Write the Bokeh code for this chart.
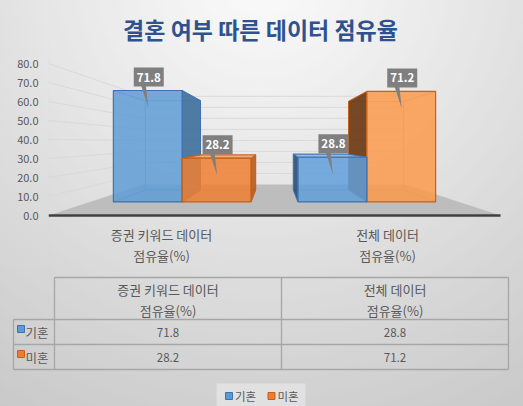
from bokeh.plotting import figure
from bokeh.layouts import column
from bokeh.models import Range1d, FixedTicker, NumeralTickFormatter
from bokeh.core.properties import value
from bokeh.embed import file_html
from bokeh.resources import INLINE

title = "결혼 여부 따른 데이터 점유율"
cat_lines = [["증권 키워드 데이터", "점유율(%)"], ["전체 데이터", "점유율(%)"]]
series_names = ["기혼", "미혼"]
married = [71.8, 28.8]
unmarried = [28.2, 71.2]
y_ticks = [0, 10, 20, 30, 40, 50, 60, 70, 80]

FONT = value("Noto Sans CJK KR")
TXT = "#595959"

# fake 3D: front plane = data space, deeper planes shrink toward a vanishing point
PX_X, PX_Y = 226.0, 1.9          # px per data unit on the front plane
VX, VY = 1.0, 38.9               # vanishing point
S_FRONT, S_BACK, S_WALL = 0.817, 0.655, 0.58
BAR_W = 0.3727

styles = [
    dict(main="#5b9bd5", front="#5e9cd6", front2="#619fd9", edge="#3d72b0",
         right="#41719c", left="#2e5478", top="#86b5e2"),
    dict(main="#ed7d31", front="#ee7f33", front2="#fb9a4e", edge="#c4601c",
         right="#b95d1f", left="#6b3a14", top="#f5a56c"),
]


def proj(x, v, s):
    return VX + s * (x - VX), VY + s * (v - VY)


def poly(pts):
    return [a for a, b in pts], [b for a, b in pts]


def gradient(fig, **kw):
    radii = list(range(540, 0, -5))
    cols = []
    for r in radii:
        g = int(round(max(198, 252 - 50 * r / 500)))
        cols.append("#%02x%02x%02x" % (g, g, g))
    fig.circle(x=[262] * len(radii), y=[-30] * len(radii), radius=radii,
               fill_color=cols, line_color=None, **kw)


# ---------------- chart part ----------------
p = figure(width=523, height=270, x_range=Range1d(0, 475 / PX_X),
           y_range=Range1d(-55 / PX_Y, 215 / PX_Y), x_axis_location=None,
           output_backend="svg", toolbar_location=None,
           min_border_left=48, min_border_right=0, min_border_top=0, min_border_bottom=0)
p.frame_align = False
p.extra_x_ranges = {"page": Range1d(48, 523)}
p.extra_y_ranges = {"page": Range1d(270, 0)}
p.grid.visible = False
p.outline_line_color = None
p.background_fill_color = "#e6e6e6"
p.border_fill_alpha = 0
# same radial shading behind the axis strip
p.styles = {"background": "radial-gradient(circle 540px at 262px -30px, rgb(252,252,252), rgb(198,198,198))"}

ax = p.yaxis[0]
ax.ticker = FixedTicker(ticks=y_ticks)
ax.formatter = NumeralTickFormatter(format="0.0")
ax.axis_line_color = None
ax.major_tick_line_color = None
ax.minor_tick_line_color = None
ax.major_tick_out = 0
ax.major_label_standoff = 10
ax.major_label_text_font = "Noto Sans CJK KR"
ax.major_label_text_font_size = "11px"
ax.major_label_text_color = TXT

gradient(p, x_range_name="page", y_range_name="page")

# floor
fx, fy = poly([proj(0, 0, 1), proj(2, 0, 1), proj(2, 0, S_WALL), proj(0, 0, S_WALL)])
p.patch(fx, fy, fill_color="#bdbdbd", line_color=None)
p.line([0, 2], [0, 0], line_color="#404040", line_width=2.5)

# gridlines on side wall and back wall
gx, gy = [], []
for t in y_ticks[1:]:
    bx0, by = proj(0, t, S_WALL)
    bx1, _ = proj(2, t, S_WALL)
    gx.append([0, bx0, bx1])
    gy.append([t, by, by])
p.multi_line(gx, gy, line_color="#d9d9d9", line_width=1)

# bars
bars = []
for c in range(len(cat_lines)):
    for k, vals in enumerate([married, unmarried]):
        x0 = c + 0.5 - BAR_W + k * BAR_W
        bars.append((x0, x0 + BAR_W, vals[c], k))
bars.sort(key=lambda b: -abs((b[0] + b[1]) / 2 - VX))

lab_x, lab_y, lab_t, tail_x, tail_y = [], [], [], [], []
for x0, x1, v, k in bars:
    st = styles[k]
    right_of_vp = (x0 + x1) / 2 > VX
    FL, FR, FTR, FTL = proj(x0, 0, S_FRONT), proj(x1, 0, S_FRONT), proj(x1, v, S_FRONT), proj(x0, v, S_FRONT)
    BL, BR, BTR, BTL = proj(x0, 0, S_BACK), proj(x1, 0, S_BACK), proj(x1, v, S_BACK), proj(x0, v, S_BACK)
    hx, hy = poly([BL, BR, BTR, BTL, BL])
    p.line(hx, hy, line_color=st["edge"], line_alpha=0.5, line_width=1)
    cx_, cy_ = [], []
    for a, b in [(FL, BL), (FTL, BTL), (FR, BR), (FTR, BTR)]:
        cx_.append([a[0], b[0]])
        cy_.append([a[1], b[1]])
    p.multi_line(cx_, cy_, line_color=st["edge"], line_alpha=0.5, line_width=1)
    if not right_of_vp:
        sx, sy = poly([FR, BR, BTR, FTR])
        p.patch(sx, sy, fill_color=st["right"], fill_alpha=0.92, line_color=st["edge"], line_width=1)
    else:
        sx, sy = poly([FL, BL, BTL, FTL])
        p.patch(sx, sy, fill_color=st["left"], fill_alpha=0.92, line_color=st["edge"], line_width=1)
    if v < VY:
        tx, ty = poly([FTL, FTR, BTR, BTL])
        p.patch(tx, ty, fill_color=st["top"], fill_alpha=0.9, line_color=st["edge"], line_width=1)
    ox, oy = poly([FL, FR, FTR, FTL])
    p.patch(ox, oy, fill_color=st["front2"] if right_of_vp else st["front"], fill_alpha=0.85,
            line_color=st["edge"], line_width=1.2)

    mx = (FTL[0] + FTR[0]) / 2
    top = FTL[1]
    lab_x.append(mx + 1 / PX_X)
    lab_y.append(top + 13.5 / PX_Y)
    lab_t.append("%.1f" % v)
    tail_x.append([mx - 7 / PX_X, mx - 2 / PX_X, mx + 0.5 / PX_X])
    tail_y.append([top + 6 / PX_Y, top + 6 / PX_Y, top - 17 / PX_Y])

p.patches(tail_x, tail_y, fill_color="#7f7f7f", line_color=None)
p.rect(lab_x, lab_y, width=30, height=19, width_units="screen", height_units="screen",
       fill_color="#7f7f7f", line_color=None)
p.text(lab_x, lab_y, text=lab_t, text_align="center", text_baseline="middle",
       text_font=FONT, text_font_style="bold", text_font_size="11.5px", text_color="white")

# category labels under the floor
for c, lines in enumerate(cat_lines):
    p.text([c + 0.5, c + 0.5], [-10.0, -21.0], text=lines, text_align="center",
           text_baseline="middle", text_font=FONT, text_font_size="13px", text_color=TXT)

p.text([260], [28], text=[title], x_range_name="page", y_range_name="page",
       text_align="center", text_baseline="middle", text_font=FONT,
       text_font_style="bold", text_font_size="23px", text_color="#2E5290")

# ---------------- data table + legend ----------------
q = figure(width=523, height=136, x_range=Range1d(0, 523), y_range=Range1d(406, 270),
           x_axis_location=None, y_axis_location=None, output_backend="svg",
           toolbar_location=None, min_border=0)
q.frame_align = False
q.grid.visible = False
q.outline_line_color = None
q.background_fill_color = "#d8d8d8"
q.border_fill_color = "#d8d8d8"
gradient(q)

col_l, col_a, col_m, col_r = 13, 54, 281, 508
row_y = [277, 319, 344, 369]
q.segment(x0=[col_a, col_l, col_l, col_l, col_l, col_a, col_m, col_r],
          y0=[row_y[0], row_y[1], row_y[2], row_y[3], row_y[1], row_y[0], row_y[0], row_y[0]],
          x1=[col_r, col_r, col_r, col_r, col_l, col_a, col_m, col_r],
          y1=[row_y[0], row_y[1], row_y[2], row_y[3], row_y[3], row_y[3], row_y[3], row_y[3]],
          line_color="#a6a6a6", line_width=1.3)

col_c = [(col_a + col_m) / 2, (col_m + col_r) / 2]
for c, lines in enumerate(cat_lines):
    q.text([col_c[c]] * 2, [288.5, 309.5], text=lines, text_align="center",
           text_baseline="middle", text_font=FONT, text_font_size="13px", text_color=TXT)

for k, vals in enumerate([married, unmarried]):
    ymid = (row_y[k + 1] + row_y[k + 2]) / 2
    q.text(col_c, [ymid] * 2, text=["%.1f" % v for v in vals], text_align="center",
           text_baseline="middle", text_font=FONT, text_font_size="11.5px", text_color=TXT)
    q.scatter([20.5], [ymid - 3], marker="square", size=7, fill_color=styles[k]["main"],
              line_color=styles[k]["edge"])
    q.text([25], [ymid], text=[series_names[k]], text_align="left", text_baseline="middle",
           text_font=FONT, text_font_size="12.5px", text_color=TXT)

# legend
q.quad(left=[216], right=[305], top=[383], bottom=[406], fill_color="#ebebeb", fill_alpha=0.6,
       line_color=None)
leg_x = [228.5, 271]
for k in range(2):
    q.scatter([leg_x[k]], [395.5], marker="square", size=7, fill_color=styles[k]["main"],
              line_color=styles[k]["edge"])
    q.text([leg_x[k] + 6], [395.5], text=[series_names[k]], text_align="left",
           text_baseline="middle", text_font=FONT, text_font_size="11.5px", text_color=TXT)

layout = column(p, q, spacing=0)
open("out.html", "w").write(file_html(layout, INLINE))
